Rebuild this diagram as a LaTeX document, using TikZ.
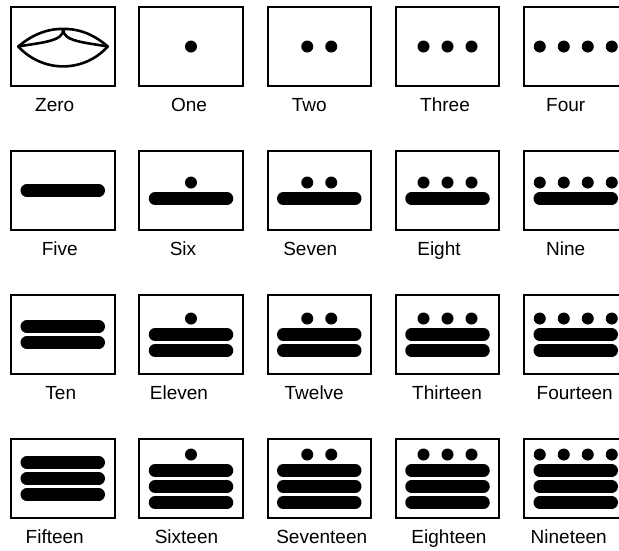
\documentclass[tikz,border=0pt]{standalone}
\usepackage{fontspec}
\setmainfont{Liberation Sans}
\usepackage{tikz}
\usetikzlibrary{calc}
\tikzset{
  glyphbox/.style={draw=black,line width=2pt,minimum width=103.5pt,minimum height=79pt,inner sep=0pt},
  numlabel/.style={anchor=base,inner sep=0pt,font=\fontsize{19}{22}\selectfont},
  barline/.style={line width=12.5pt,line cap=round},
  pip/.style={fill=black},
  shell/.style={line width=2.6pt,line join=round}
}

\begin{document}
\begin{tikzpicture}[x=1pt,y=-1pt]
        \useasboundingbox (0,0) rectangle (619,550);
        % boxes and their names
        \foreach \n/\name/\dx in {0/Zero/-8,1/One/-2,2/Two/-10,3/Three/-2.5,4/Four/-10,
            5/Five/-3,6/Six/-8,7/Seven/-9,8/Eight/-8.5,9/Nine/-10,
            10/Ten/-2,11/Eleven/-12,12/Twelve/-5,13/Thirteen/-0.5,14/Fourteen/-1,
            15/Fifteen/-8,16/Sixteen/-4.5,17/Seventeen/2.5,18/Eighteen/1.5,19/Nineteen/-7} {
          \pgfmathtruncatemacro\col{mod(\n,5)}
          \pgfmathtruncatemacro\row{int(\n/5)}
          \node[glyphbox] (b\n) at (62.75+128.25*\col,46.5+144*\row) {};
          \node[numlabel] (l\n) at ([xshift=\dx pt,yshift=-24pt]b\n.south) {\name};
        }
        % dots and bars
        \foreach \n in {1,...,19} {
          \pgfmathtruncatemacro\k{mod(\n,5)}
          \pgfmathtruncatemacro\m{int(\n/5)}
          \pgfmathtruncatemacro\hasdot{\k>0}
          \pgfmathsetmacro\firsty{-8*(\m+\hasdot-1)}
          \ifnum\k>0
            \foreach \i in {1,...,\k}
              \fill[pip] ($(b\n)+({24*\i-12*\k-12},\firsty)$) circle[radius=6pt];
          \fi
          \ifnum\m>0
            \foreach \j in {1,...,\m}
              \draw[barline] ($(b\n)+(-36,{\firsty+16*(\j-1+\hasdot)})$) -- ++(72,0);
          \fi
        }
        % shell for zero
        \begin{scope}[shift={(b0.center)}]
          \draw[shell] (-44.5,0) .. controls (-28,-14) and (-12,-18) .. (0.5,-17.5)
            .. controls (13,-18) and (29,-14) .. (45,0)
            .. controls (21,26.5) and (-20,26.5) .. (-44.5,0) -- cycle;
          \draw[shell] (0.5,-17.5) .. controls (1.5,-5) and (-22,-4) .. (-44.5,0);
          \draw[shell] (0.5,-17.5) .. controls (-0.5,-5) and (23,-4) .. (45,0);
        \end{scope}
      \end{tikzpicture}
\end{document}
